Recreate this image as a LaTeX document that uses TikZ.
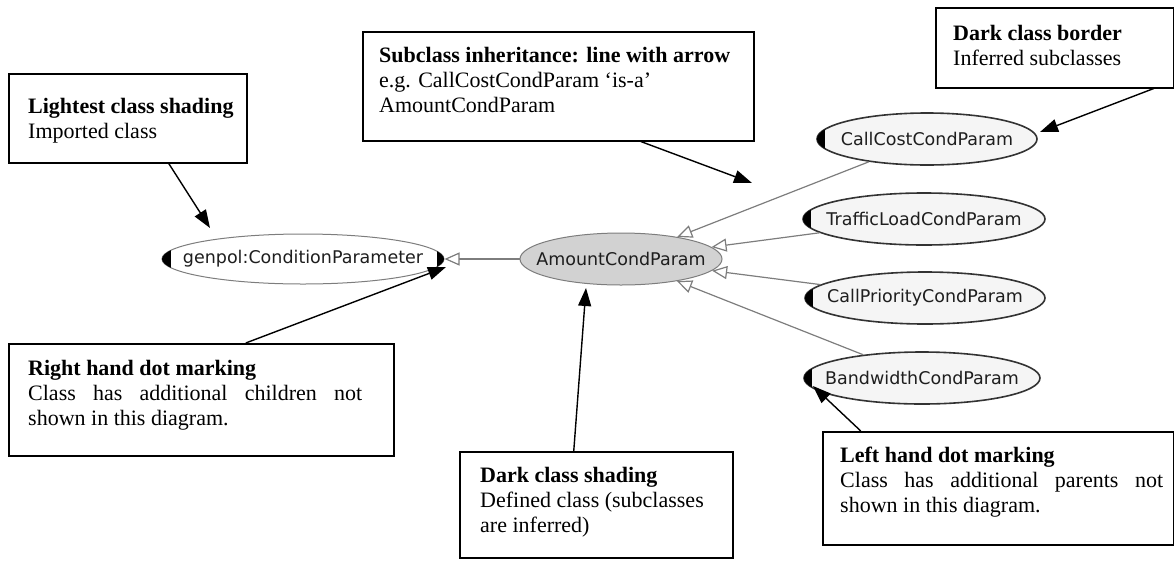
\documentclass[tikz,border=0pt]{standalone}
\usepackage{fontspec}
\setmainfont{Liberation Serif}
\newfontfamily\classfont{DejaVu Sans}
\usetikzlibrary{arrows.meta,shapes.geometric}

\definecolor{edgegray}{RGB}{125,125,125}
\definecolor{definedfill}{RGB}{210,210,210}
\definecolor{inferredfill}{RGB}{245,245,245}
\definecolor{labelgray}{RGB}{30,30,30}

\begin{document}
\begin{tikzpicture}[x=1pt,y=-1pt,
    note/.style={draw,line width=1.5pt,anchor=north west,inner sep=0pt},
    notetext/.style={anchor=north west,inner sep=0pt,align=left,
        font=\fontsize{22}{25}\selectfont},
    classnode/.style={ellipse,inner sep=0pt,minimum height=52pt},
    classlabel/.style={inner sep=0pt,text=labelgray,
        font=\classfont\fontsize{17.5}{20}\selectfont},
    imported/.style={classnode,draw=edgegray,fill=white,line width=1pt},
    defined/.style={classnode,draw=edgegray,fill=definedfill,line width=1pt},
    inferred/.style={classnode,draw=black!80,fill=inferredfill,line width=1.6pt},
    inherit/.style={-{Triangle[open,length=15pt,width=13pt]},edgegray,line width=1.2pt},
    callout/.style={-{Triangle[length=18pt,width=13pt]},line width=1.4pt}]

    \useasboundingbox (0,0) rectangle (1174,560);

    % classes
    \node[imported,minimum width=282pt,minimum height=50pt,
        label={[classlabel]center:{genpol:ConditionParameter}}] (genpol) at (303,259) {};
    \node[defined,minimum width=202pt,
        label={[classlabel]center:AmountCondParam}] (amount) at (621,259) {};
    \node[inferred,minimum width=220pt,
        label={[classlabel]center:CallCostCondParam}] (callcost) at (927,139) {};
    \node[inferred,minimum width=242pt,
        label={[classlabel]center:TrafficLoadCondParam}] (trafficload) at (924,219) {};
    \node[inferred,minimum width=240pt,
        label={[classlabel]center:CallPriorityCondParam}] (callpriority) at (925,298) {};
    \node[inferred,minimum width=236pt,
        label={[classlabel]center:BandwidthCondParam}] (bandwidth) at (922,378) {};

    \draw[inherit] (amount) -- (genpol);
    \foreach \c in {callcost,trafficload,callpriority,bandwidth}
        \draw[inherit] (\c) -- (amount);

    % dot markings
    \foreach \c/\rx/\ry in {genpol/141/25,callcost/110/26,trafficload/121/26,
        callpriority/120/26,bandwidth/118/26} {
        \begin{scope}
            \clip (\c.center) ellipse [x radius=\rx pt, y radius=\ry pt];
            \fill (\c.west) ++(-2,-14) rectangle ++(11,28);
        \end{scope}
    }
    \begin{scope}
        \clip (genpol.center) ellipse [x radius=141pt, y radius=25pt];
        \fill (genpol.east) ++(2,-14) rectangle ++(-10,28);
    \end{scope}

    % notes
    \node[note,minimum width=238pt,minimum height=89pt] (lightbox) at (8,73) {};
    \node[notetext] (lighttext) at ([shift={(20,22.5)}]lightbox.north west)
        {\strut\textbf{Lightest class shading}\\Imported class};

    \node[note,minimum width=391pt,minimum height=109pt] (inheritbox) at (362,31) {};
    \node[notetext] (inherittext) at ([shift={(17,13.5)}]inheritbox.north west)
        {\strut\textbf{Subclass inheritance: line with arrow}\\
        e.g. CallCostCondParam ‘is-a’\\AmountCondParam};

    \node[note,minimum width=238pt,minimum height=80pt] (borderbox) at (935,7) {};
    \node[notetext] (bordertext) at ([shift={(18,15.5)}]borderbox.north west)
        {\strut\textbf{Dark class border}\\Inferred subclasses};

    \node[note,minimum width=385pt,minimum height=112pt] (rightbox) at (8,343) {};
    \node[notetext] (righttext) at ([shift={(20,14.5)}]rightbox.north west)
        {\strut\textbf{Right hand dot marking}\\
        \makebox[334pt][s]{Class has additional children not}\\
        shown in this diagram.};

    \node[note,minimum width=273pt,minimum height=106pt] (definedbox) at (459,451) {};
    \node[notetext] (definedtext) at ([shift={(21,13.5)}]definedbox.north west)
        {\strut\textbf{Dark class shading}\\Defined class (subclasses\\are inferred)};

    \node[note,minimum width=351pt,minimum height=113pt] (leftbox) at (822,431) {};
    \node[notetext] (lefttext) at ([shift={(18,13.5)}]leftbox.north west)
        {\strut\textbf{Left hand dot marking}\\
        \makebox[323pt][s]{Class has additional parents not}\\
        shown in this diagram.};

    % callout arrows
    \coordinate (lighttip) at (210,228);
    \coordinate (inherittip) at (752,183);
    \coordinate (bordertip) at (1040,132);
    \coordinate (righttip) at (446,267);
    \coordinate (definedtip) at (586,288);
    \coordinate (lefttip) at (813,386);
    \draw[callout] ([xshift=41pt]lightbox.south) -- (lighttip);
    \draw[callout] ([xshift=82.5pt]inheritbox.south) -- (inherittip);
    \draw[callout] ([xshift=99pt]borderbox.south) -- (bordertip);
    \draw[callout] ([xshift=44.5pt]rightbox.north) -- (righttip);
    \draw[callout] ([xshift=-22.5pt]definedbox.north) -- (definedtip);
    \draw[callout] ([xshift=-137.5pt]leftbox.north) -- (lefttip);
\end{tikzpicture}
\end{document}
